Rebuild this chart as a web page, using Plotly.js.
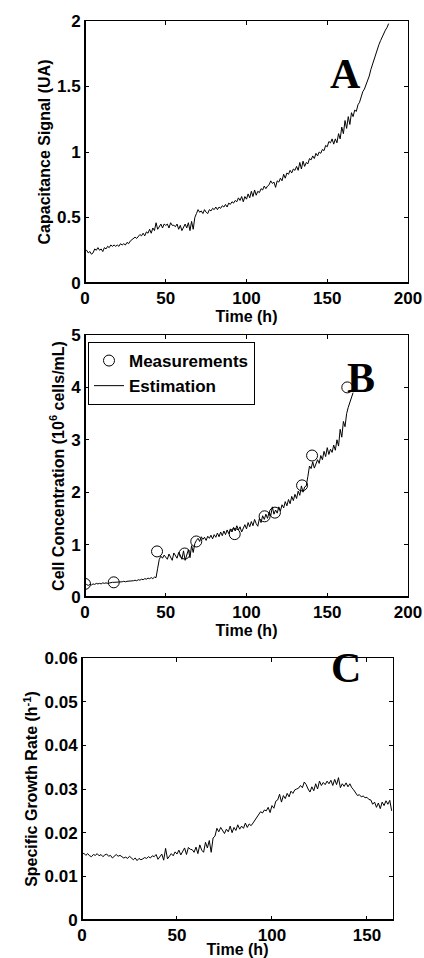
<!DOCTYPE html>
<html>
<head>
<meta charset="utf-8">
<script src="https://cdn.plot.ly/plotly-3.0.1.min.js"></script>
<style>html,body{margin:0;padding:0;background:#fff;}#chart{width:424px;height:958px;}</style>
</head>
<body>
<div id="chart"></div>
<script>
// Panel A: capacitance signal, hourly from t = 0 h
const capacitance = [
0.24,0.25,0.23,0.24,0.22,0.23,0.26,0.25,0.27,0.25,
0.26,0.24,0.27,0.26,0.28,0.27,0.29,0.28,0.29,0.28,
0.29,0.28,0.30,0.29,0.30,0.29,0.31,0.30,0.32,0.33,
0.34,0.35,0.34,0.36,0.37,0.36,0.38,0.36,0.39,0.38,
0.41,0.38,0.42,0.40,0.46,0.41,0.43,0.45,0.42,0.45,
0.44,0.45,0.42,0.46,0.44,0.44,0.43,0.45,0.41,0.44,
0.40,0.43,0.45,0.42,0.46,0.40,0.47,0.41,0.50,0.53,
0.56,0.54,0.55,0.53,0.56,0.54,0.53,0.56,0.55,0.57,
0.56,0.58,0.56,0.58,0.57,0.59,0.58,0.60,0.58,0.61,
0.60,0.62,0.61,0.63,0.62,0.65,0.63,0.66,0.62,0.66,
0.64,0.68,0.65,0.70,0.66,0.71,0.67,0.70,0.69,0.72,
0.71,0.74,0.72,0.74,0.75,0.78,0.76,0.77,0.73,0.78,
0.77,0.80,0.78,0.83,0.80,0.84,0.83,0.86,0.84,0.87,
0.86,0.89,0.86,0.92,0.87,0.93,0.89,0.92,0.91,0.95,
0.94,0.97,0.95,0.99,0.97,1.00,0.99,1.02,1.01,1.05,
1.04,1.08,1.07,1.10,1.06,1.10,1.07,1.14,1.10,1.19,
1.14,1.24,1.18,1.27,1.21,1.30,1.27,1.32,1.31,1.36,
1.38,1.42,1.46,1.48,1.51,1.55,1.58,1.63,1.67,1.71,
1.74,1.78,1.82,1.85,1.88,1.90,1.93,1.95,1.98
];

// Panel B: measured cell concentration (10^6 cells/mL)
const measTime = [0, 17.8, 44.6, 61.7, 68.9, 92.7, 111.2, 117.6, 134.4, 140.6, 162.4];
const measConc = [0.25, 0.28, 0.87, 0.83, 1.06, 1.20, 1.54, 1.61, 2.13, 2.70, 4.00];

// Panel B: estimated cell concentration, hourly from t = 0 h
const estimation = [
0.22,0.24,0.22,0.24,0.23,0.25,0.24,0.26,0.25,0.26,
0.25,0.27,0.26,0.27,0.26,0.27,0.27,0.28,0.28,0.28,
0.29,0.28,0.29,0.29,0.30,0.29,0.30,0.30,0.31,0.30,
0.31,0.32,0.31,0.33,0.32,0.34,0.33,0.35,0.34,0.36,
0.35,0.37,0.35,0.38,0.37,0.55,0.72,0.78,0.74,0.80,
0.76,0.72,0.82,0.75,0.70,0.84,0.78,0.74,0.85,0.80,
0.72,0.88,0.70,0.82,0.90,0.75,0.98,0.85,1.02,1.08,
1.12,1.06,1.15,1.10,1.14,1.08,1.16,1.12,1.18,1.11,
1.19,1.14,1.22,1.15,1.24,1.17,1.26,1.19,1.28,1.21,
1.30,1.24,1.33,1.26,1.36,1.28,1.34,1.24,1.32,1.38,
1.30,1.42,1.34,1.44,1.36,1.48,1.40,1.35,1.50,1.42,
1.55,1.48,1.58,1.50,1.62,1.55,1.72,1.58,1.66,1.60,
1.72,1.64,1.76,1.70,1.82,1.74,1.86,1.78,1.92,1.84,
1.96,1.88,2.02,1.94,2.12,2.00,2.10,2.12,2.30,2.50,
2.45,2.58,2.46,2.55,2.62,2.55,2.70,2.62,2.78,2.68,
2.85,2.72,2.82,2.76,2.90,2.80,3.00,2.88,3.20,3.05,
3.35,3.25,3.50,3.62,3.72,3.82,3.90
];

// Panel C: specific growth rate (1/h), hourly from t = 0 h
const growthRate = [
0.0150,0.0153,0.0148,0.0152,0.0147,0.0145,0.0150,0.0148,0.0152,0.0147,
0.0150,0.0145,0.0149,0.0151,0.0146,0.0148,0.0142,0.0147,0.0150,0.0146,
0.0148,0.0145,0.0142,0.0144,0.0141,0.0146,0.0143,0.0138,0.0142,0.0136,
0.0141,0.0138,0.0140,0.0143,0.0141,0.0145,0.0142,0.0147,0.0145,0.0150,
0.0139,0.0146,0.0151,0.0137,0.0164,0.0140,0.0146,0.0152,0.0147,0.0156,
0.0151,0.0160,0.0149,0.0158,0.0165,0.0150,0.0166,0.0162,0.0161,0.0155,
0.0167,0.0152,0.0172,0.0160,0.0155,0.0178,0.0165,0.0182,0.0155,0.0188,
0.0192,0.0210,0.0202,0.0212,0.0205,0.0198,0.0208,0.0202,0.0215,0.0200,
0.0212,0.0205,0.0218,0.0208,0.0215,0.0210,0.0222,0.0212,0.0220,0.0216,
0.0222,0.0228,0.0235,0.0242,0.0248,0.0245,0.0252,0.0250,0.0258,0.0246,
0.0262,0.0256,0.0272,0.0275,0.0288,0.0270,0.0285,0.0278,0.0290,0.0282,
0.0295,0.0290,0.0298,0.0300,0.0302,0.0308,0.0303,0.0316,0.0310,0.0300,
0.0293,0.0305,0.0296,0.0312,0.0300,0.0318,0.0308,0.0315,0.0310,0.0318,
0.0312,0.0320,0.0308,0.0322,0.0310,0.0326,0.0303,0.0312,0.0306,0.0314,
0.0305,0.0312,0.0303,0.0298,0.0290,0.0285,0.0287,0.0282,0.0284,0.0280,
0.0281,0.0276,0.0275,0.0265,0.0270,0.0258,0.0268,0.0255,0.0270,0.0262,
0.0273,0.0265,0.0274,0.0250
];

const panelLetters = ['A', 'B', 'C'];

function hours(arr) { return arr.map((_, i) => i); }

const sans = 'Liberation Sans, Arial, Helvetica, sans-serif';
const serif = 'Liberation Serif, Times New Roman, serif';
const tickFont = {family: sans, size: 17, color: '#000', weight: 700};
const titleFont = {family: sans, size: 16, color: '#000', weight: 700};

function axis(extra) {
  return Object.assign({
    showgrid: false, zeroline: false, showline: true, linecolor: '#000', linewidth: 1,
    mirror: 'ticks', ticks: 'inside', ticklen: 4, tickcolor: '#000', tickwidth: 1,
    tickfont: tickFont, fixedrange: true
  }, extra);
}

const W = 424, H = 958;
const fx = px => px / W;
const fy = px => 1 - px / H;

const traces = [
  {x: hours(capacitance), y: capacitance, type: 'scatter', mode: 'lines',
   line: {color: '#000', width: 1}, xaxis: 'x', yaxis: 'y', showlegend: false},
  {x: measTime, y: measConc, type: 'scatter', mode: 'markers', name: 'Measurements',
   marker: {symbol: 'circle-open', size: 11, color: '#000', line: {width: 1, color: '#000'}},
   xaxis: 'x2', yaxis: 'y2'},
  {x: hours(estimation), y: estimation, type: 'scatter', mode: 'lines', name: 'Estimation',
   line: {color: '#000', width: 1}, xaxis: 'x2', yaxis: 'y2'},
  {x: hours(growthRate), y: growthRate, type: 'scatter', mode: 'lines',
   line: {color: '#000', width: 1}, xaxis: 'x3', yaxis: 'y3', showlegend: false}
];

const layout = {
  width: W, height: H,
  margin: {l: 0, r: 0, t: 0, b: 0},
  paper_bgcolor: '#fff', plot_bgcolor: '#fff',
  font: {family: sans, color: '#000'},
  xaxis: axis({domain: [fx(85), fx(408)], anchor: 'y', range: [0, 200], dtick: 50,
    title: {text: 'Time (h)', font: titleFont, standoff: 0}}),
  yaxis: axis({domain: [fy(283), fy(21)], anchor: 'x', range: [0, 2], dtick: 0.5,
    title: {text: 'Capacitance Signal (UA)', font: titleFont, standoff: 2}}),
  xaxis2: axis({domain: [fx(85), fx(408)], anchor: 'y2', range: [0, 200], dtick: 50,
    title: {text: 'Time (h)', font: titleFont, standoff: 0}}),
  yaxis2: axis({domain: [fy(597), fy(335)], anchor: 'x2', range: [0, 5], dtick: 1,
    title: {text: 'Cell Concentration (10<sup>6</sup> cells/mL)', font: titleFont, standoff: 2}}),
  xaxis3: axis({domain: [fx(82), fx(393)], anchor: 'y3', range: [0, 163.7], dtick: 50,
    title: {text: 'Time (h)', font: titleFont, standoff: 0}}),
  yaxis3: axis({domain: [fy(920), fy(658)], anchor: 'x3', range: [0, 0.06], dtick: 0.01,
    title: {text: 'Specific Growth Rate (h<sup>-1</sup>)', font: titleFont, standoff: 2}}),
  showlegend: true,
  legend: {x: fx(88), y: fy(342), xanchor: 'left', yanchor: 'top',
    bordercolor: '#000', borderwidth: 1, bgcolor: '#fff',
    font: {family: sans, size: 17, color: '#000', weight: 700},
    tracegroupgap: 0},
  annotations: [
    {text: panelLetters[0], x: fx(363), y: fy(49), xref: 'paper', yref: 'paper', showarrow: false,
     font: {family: serif, size: 42, color: '#000', weight: 700}},
    {text: panelLetters[1], x: fx(377), y: fy(378), xref: 'paper', yref: 'paper', showarrow: false,
     font: {family: serif, size: 42, color: '#000', weight: 700}},
    {text: panelLetters[2], x: fx(363), y: fy(693), xref: 'paper', yref: 'paper', showarrow: false,
     font: {family: serif, size: 42, color: '#000', weight: 700}}
  ],
  shapes: ['', '2', '3'].flatMap(s => [
    {type: 'line', xref: 'x' + s + ' domain', yref: 'y' + s + ' domain', x0: 0, x1: 0, y0: 0, y1: 1,
     line: {color: '#000', width: 2}},
    {type: 'line', xref: 'x' + s + ' domain', yref: 'y' + s + ' domain', x0: 0, x1: 1, y0: 0, y1: 0,
     line: {color: '#000', width: 2}}
  ])
};

Plotly.newPlot('chart', traces, layout, {displayModeBar: false, staticPlot: true});
</script>
</body>
</html>
